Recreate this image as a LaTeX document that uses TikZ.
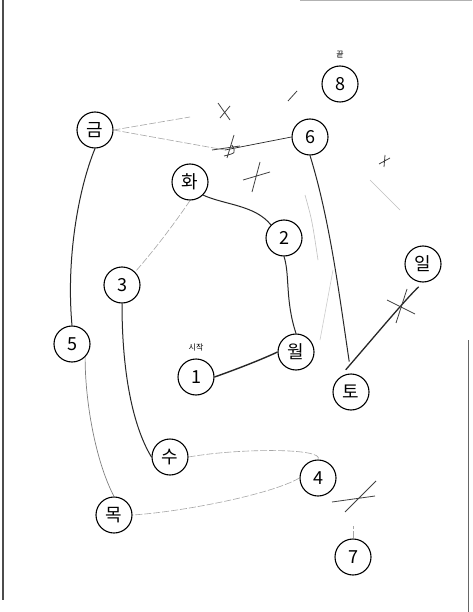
\documentclass[tikz,border=0pt]{standalone}
\usepackage{fontspec}
\setmainfont{Noto Sans CJK KR}
\usetikzlibrary{positioning}
\tikzset{spot/.style={circle, draw, line width=1.1pt, minimum size=36pt, inner sep=0pt, font=\fontsize{18}{18}\selectfont},
  tag/.style={font=\fontsize{8}{8}\selectfont},
  pen/.style={line width=1pt, black!85},
  faint/.style={line width=0.6pt, black!35, dash pattern=on 7pt off 2pt},
  cross/.style={line width=0.8pt, black!75}}

\begin{document}
\begin{tikzpicture}[x=1pt,y=-1pt]
\useasboundingbox[fill=white] (0,0) rectangle (472,612);
\draw[black!70, line width=1.5pt] (3,0) -- (3,600);
\draw[black!30, line width=1pt] (300,1) -- (472,1);
\draw[black!60, line width=1pt] (468,340) -- (468,612);

\node[spot] (n8) at (340,84) {8};
\node[spot] (geum) at (95,130) {금};
\node[spot] (n6) at (310,137) {6};
\node[spot] (hwa) at (190,182) {화};
\node[spot] (n2) at (284,238) {2};
\node[spot] (il) at (423,264) {일};
\node[spot] (n3) at (122,285) {3};
\node[spot] (n5) at (72,344) {5};
\node[spot] (n1) at (196,377) {1};
\node[spot] (wol) at (296,352) {월};
\node[spot] (to) at (351,392) {토};
\node[spot] (su) at (170,457) {수};
\node[spot] (n4) at (318,478) {4};
\node[spot] (mok) at (114,515) {목};
\node[spot] (n7) at (353,557) {7};
\node[tag, above=4pt of n8] (kkeut) {끝};
\node[tag, above=4pt of n1] (sijak) {시작};

\draw[pen, line width=1.4pt] (n1.east) .. controls (240,368) and (265,358) .. (wol.west);
\draw[pen] (wol.north) .. controls (285,300) and (290,275) .. (n2.south);
\draw[pen] (n2.north west) .. controls (255,205) and (225,205) .. (hwa.south east);
\draw[faint] (hwa.south) .. controls (170,230) and (150,255) .. (n3.north east);
\draw[pen] (n3.south) .. controls (122,380) and (135,430) .. (su.west);
\draw[faint] (su.east) .. controls (240,448) and (325,448) .. (n4.north);
\draw[faint] (n4.west) .. controls (270,495) and (180,512) .. (mok.east);
\draw[pen, black!50, line width=0.7pt] (mok.north) .. controls (95,460) and (85,400) .. (n5.south east);
\draw[pen] (n5.north) .. controls (66,260) and (78,190) .. (geum.south);
\coordinate (g1) at (190,117);
\coordinate (g2) at (225,150);
\draw[faint] (geum.east) -- (g1);
\draw[faint] (geum.east) -- (g2);
\draw[pen, line width=0.7pt] (g2) -- (n6.west);
\draw[pen] (n6.south) .. controls (330,220) and (340,300) .. (to.north) [shorten >=12pt];
\draw[pen, line width=1.3pt, shorten <=12pt, shorten >=6pt] (to.north west) .. controls (380,330) and (405,300) .. (il.south);
\draw[faint] (n7.north) -- ++(0,-12);

\draw[cross] (218,103) -- (230,120) (220,118) -- (230,106);
\draw[cross] (288,101) -- (297,91);
\draw[cross] (212,150) -- (240,146) (227,158) -- (234,135) (224,156) .. controls (236,153) .. (232,145);
\draw[cross] (243,180) -- (270,172) (252,192) -- (260,162);
\draw[cross] (379,164) -- (390,158) (384,167) -- (385,155);
\draw[cross] (387,300) -- (415,314) (396,323) -- (407,289);
\draw[cross] (332,502) -- (375,496) (345,512) -- (376,481);

\draw[black!25, line width=0.6pt] (305,195) .. controls (312,220) .. (318,260);
\draw[black!20, line width=0.6pt] (333,270) -- (320,340);
\draw[black!25, line width=0.6pt] (370,180) .. controls (390,200) .. (400,210);
\end{tikzpicture}
\end{document}
